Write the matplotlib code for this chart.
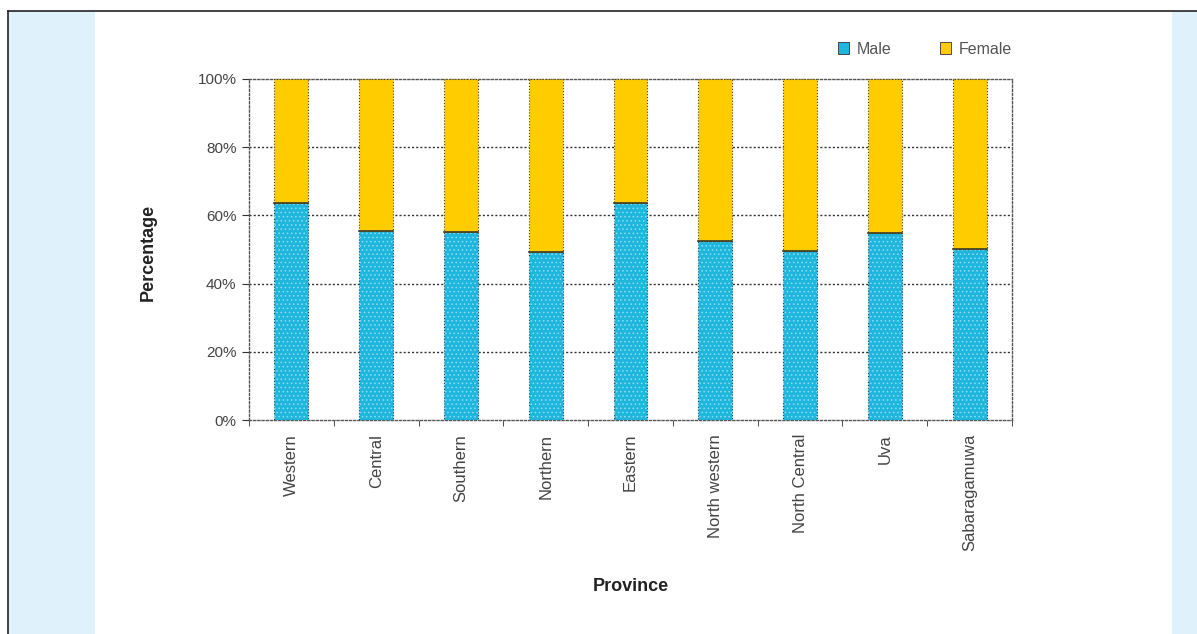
import numpy as np
import matplotlib
matplotlib.use("Agg")
import matplotlib.pyplot as plt
from matplotlib.patches import Rectangle
from matplotlib.lines import Line2D

provinces = ["Western", "Central", "Southern", "Northern", "Eastern",
             "North western", "North Central", "Uva", "Sabaragamuwa"]
male = [63.5, 55.5, 55.0, 49.4, 63.5, 52.4, 49.5, 54.8, 50.1]
female = [100 - m for m in male]
yticks = [0, 20, 40, 60, 80, 100]
ytick_labels = ["0%", "20%", "40%", "60%", "80%", "100%"]

plt.rcParams["font.family"] = ["Liberation Sans", "DejaVu Sans"]
plt.rcParams["hatch.linewidth"] = 0.6

male_col = "#1fb6de"
female_col = "#ffcc00"
panel_col = "#dff1fa"

fig = plt.figure(figsize=(11.97, 6.34), dpi=100)
fig.patch.set_facecolor("white")

# side panels and top/left frame line
fig.add_artist(Rectangle((8 / 1197, 0), (95 - 8) / 1197, 1 - 11 / 634,
                         transform=fig.transFigure, facecolor=panel_col, edgecolor="none"))
fig.add_artist(Rectangle((1172 / 1197, 0), 25 / 1197, 1 - 11 / 634,
                         transform=fig.transFigure, facecolor=panel_col, edgecolor="none"))
fig.add_artist(Line2D([8 / 1197, 1], [1 - 11 / 634, 1 - 11 / 634],
                      transform=fig.transFigure, color="#222222", lw=1.2))
fig.add_artist(Line2D([8 / 1197, 8 / 1197], [0, 1 - 11 / 634],
                      transform=fig.transFigure, color="#222222", lw=1.2))

ax = fig.add_axes([249 / 1197, 1 - 420 / 634, (1012 - 249) / 1197, (420 - 79) / 634])
x = np.arange(len(provinces))
w = 0.4

ax.bar(x, male, w, color=male_col, edgecolor="#2a3a40", lw=0.8, ls=":", zorder=3)
ax.bar(x, male, w, fill=False, hatch="....", edgecolor="#8fdcf2", lw=0, zorder=3)
ax.bar(x, female, w, bottom=male, color=female_col, edgecolor="#4a4020", lw=0.8,
       ls=":", zorder=3)
ax.plot(np.vstack([x - w / 2, x + w / 2]), np.vstack([male, male]),
        color="#3a3a2a", lw=1.2, zorder=4)

ax.set_xlim(-0.5, len(provinces) - 0.5)
ax.set_ylim(0, 100)
ax.set_yticks(yticks)
ax.set_yticklabels(ytick_labels, fontsize=11, color="#444444")
ax.set_xticks(x)
ax.set_xticklabels(provinces, rotation=90, fontsize=12, color="#444444", va="top")
ax.tick_params(axis="x", length=0, pad=10)
ax.set_xticks(np.arange(len(provinces) + 1) - 0.5, minor=True)
ax.tick_params(axis="x", which="minor", length=4, color="#333333", direction="out")
ax.tick_params(axis="y", length=5, color="#333333", direction="out", pad=4)

for yy in yticks[1:-1]:
    ax.axhline(yy, color="#333333", lw=1.0, ls=(0, (1.5, 1.5)), zorder=1)
for s in ax.spines.values():
    s.set_color("#555555")
    s.set_linestyle((0, (1.5, 1.5)))
    s.set_linewidth(1.0)

ax.set_ylabel("Percentage", fontsize=13, fontweight="bold", color="#222222")
ax.yaxis.set_label_coords(-0.121, 0.49)
ax.set_xlabel("Province", fontsize=13, fontweight="bold", color="#222222")
ax.xaxis.set_label_coords(0.5, -0.463)

handles = [Rectangle((0, 0), 1, 1, facecolor=male_col, edgecolor="#333333", lw=0.6),
           Rectangle((0, 0), 1, 1, facecolor=female_col, edgecolor="#333333", lw=0.6)]
fig.legend(handles, ["Male", "Female"], loc="center", ncol=2, frameon=False,
           bbox_to_anchor=(925 / 1197, 1 - 49 / 634), fontsize=11.5,
           handlelength=0.7, handleheight=0.7, handletextpad=0.5, columnspacing=3.0,
           labelcolor="#555555")

fig.savefig("out.png", dpi=100, facecolor=fig.get_facecolor())
